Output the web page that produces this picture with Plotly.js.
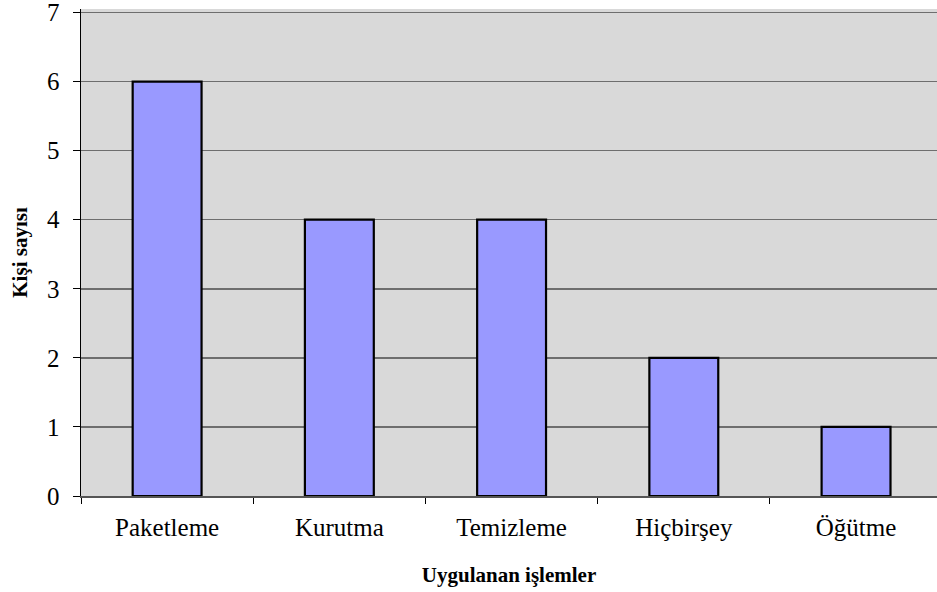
<!DOCTYPE html>
<html>
<head>
<meta charset="utf-8">
<script src="https://cdn.plot.ly/plotly-3.0.1.min.js"></script>
<style>
  html, body { margin: 0; padding: 0; background: #fff; }
  #chart { width: 937px; height: 592px; }
</style>
</head>
<body>
<div id="chart"></div>
<script>
// Categories and counts
const categories = ['Paketleme', 'Kurutma', 'Temizleme', 'Hiçbirşey', 'Öğütme'];
const counts = [6, 4, 4, 2, 1];
const yTicks = [0, 1, 2, 3, 4, 5, 6, 7];

const serif = 'Liberation Serif, Times New Roman, serif';

Plotly.newPlot('chart', [{
    type: 'bar',
    x: categories,
    y: counts,
    marker: { color: '#9999FF', line: { color: '#000000', width: 2.2 } },
    hoverinfo: 'x+y'
}], {
    width: 937,
    height: 592,
    margin: { l: 81, r: 0, t: 9, b: 96 },
    paper_bgcolor: '#ffffff',
    plot_bgcolor: '#D9D9D9',
    bargap: 0.6,
    showlegend: false,
    font: { family: serif, color: '#000', size: 25 },
    xaxis: {
        range: [-0.5, 4.47],
        tickson: 'boundaries',
        ticks: 'outside',
        ticklen: 6,
        tickcolor: '#000',
        tickwidth: 1,
        showline: true,
        linecolor: '#555',
        linewidth: 1.5,
        showgrid: false,
        tickfont: { family: serif, size: 25, color: '#000', weight: 'normal' },
        ticklabelstandoff: 8,
        title: { text: 'Uygulanan işlemler', font: { family: serif, size: 21, weight: 'bold' }, standoff: 28 },
        fixedrange: true
    },
    yaxis: {
        range: [0, 7.05],
        tickvals: yTicks,
        ticks: 'outside',
        ticklen: 7,
        tickcolor: '#000',
        tickwidth: 1,
        showline: true,
        linecolor: '#000',
        linewidth: 1.5,
        showgrid: true,
        gridcolor: '#6e6e6e',
        gridwidth: 1.5,
        zeroline: false,
        tickfont: { family: serif, size: 25, color: '#000', weight: 'normal' },
        ticklabelstandoff: 8,
        ticklabeloverflow: 'allow',
        title: { text: 'Kişi sayısı', font: { family: serif, size: 21, weight: 'bold' }, standoff: 13 },
        fixedrange: true
    }
}, { displayModeBar: false, staticPlot: true });
</script>
</body>
</html>
